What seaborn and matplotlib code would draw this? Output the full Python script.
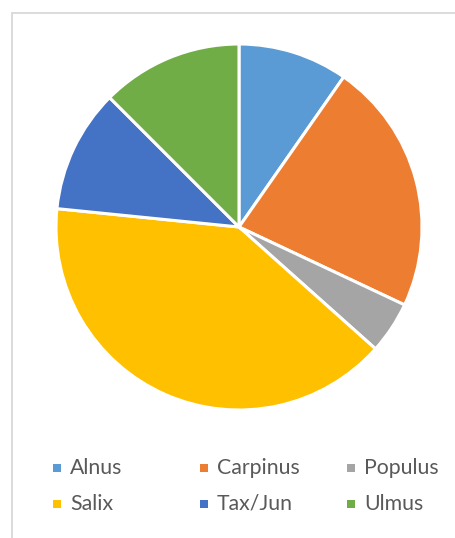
import matplotlib
matplotlib.use("Agg")
import matplotlib.pyplot as plt
import seaborn as sns
from matplotlib.patches import Rectangle

categories = ["Alnus", "Carpinus", "Populus", "Salix", "Tax/Jun", "Ulmus"]
values = [9.7, 22.3, 4.6, 40.0, 10.9, 12.5]
colors = ["#5B9BD5", "#ED7D31", "#A5A5A5", "#FFC000", "#4472C4", "#70AD47"]

sns.set_theme(style="white")
plt.rcParams['font.family'] = ['Lato', 'DejaVu Sans']

W, H = 456, 538
fig = plt.figure(figsize=(W / 100, H / 100), dpi=100)
fig.patch.set_facecolor("white")

# frame
fig.add_artist(Rectangle((12 / W, -0.1), 1.2, 1 - 13 / H + 0.1, transform=fig.transFigure,
                         fill=False, edgecolor="#D9D9D9", linewidth=1.3))

cx, cy, r = 239, 227, 183
ax = fig.add_axes([(cx - r) / W, 1 - (cy + r) / H, 2 * r / W, 2 * r / H])
ax.pie(values, colors=colors, startangle=90, counterclock=False, radius=1,
       wedgeprops=dict(edgecolor="white", linewidth=2.2))
ax.set_xlim(-1, 1)
ax.set_ylim(-1, 1)
ax.set_aspect("equal")
ax.axis("off")

# legend
col_x = [57, 204, 351]
row_y = [468, 504]
for i, (cat, col) in enumerate(zip(categories, colors)):
    rr, cc = divmod(i, 3)
    x, y = col_x[cc], row_y[rr]
    s = 8
    fig.add_artist(Rectangle(((x - s / 2) / W, 1 - (y + s / 2) / H), s / W, s / H,
                             transform=fig.transFigure, facecolor=col, edgecolor="none"))
    fig.text((x + 13) / W, 1 - y / H, cat, fontsize=15.3, color="#595959",
             va="center", ha="left")

fig.savefig("out.png", dpi=100)
